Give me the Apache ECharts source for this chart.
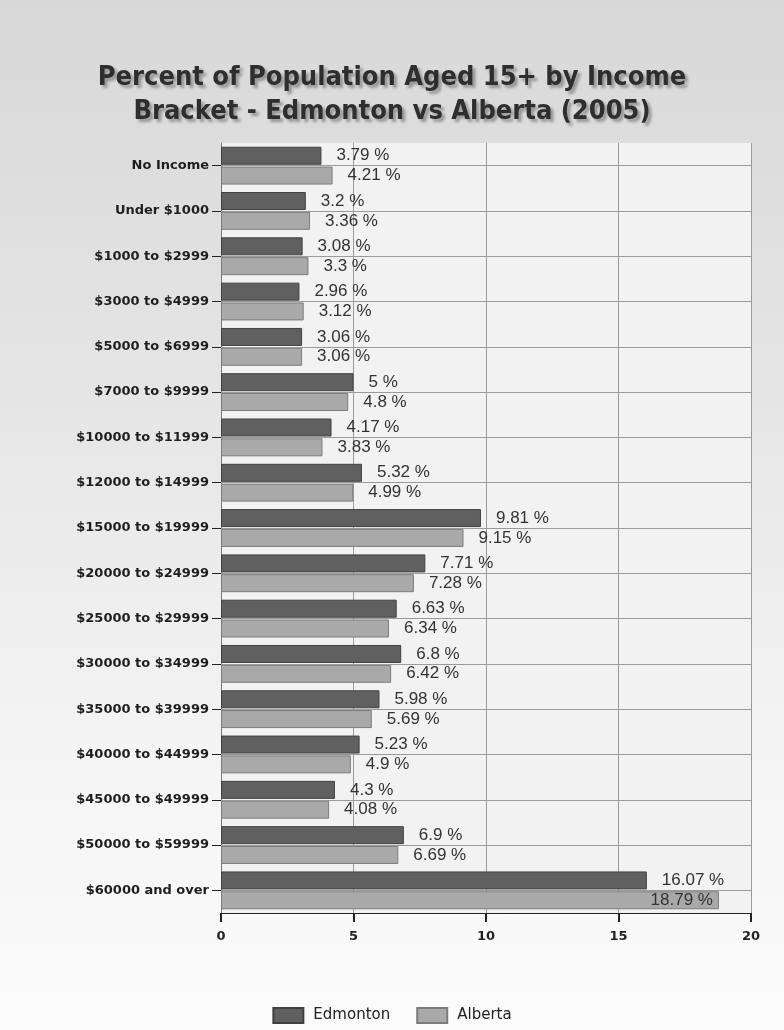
<!DOCTYPE html>
<html>
<head>
<meta charset="utf-8">
<title>Percent of Population Aged 15+ by Income Bracket</title>
<script src="https://cdn.jsdelivr.net/npm/echarts@6/dist/echarts.min.js"></script>
<style>
  html, body { margin: 0; padding: 0; }
  body { width: 784px; height: 1030px; background: linear-gradient(to bottom, #d8d8d8 0%, #e4e4e4 35%, #f5f5f5 75%, #fbfbfb 100%); }
  #chart { width: 784px; height: 1030px; }
</style>
</head>
<body>
<div id="chart"></div>
<script>
// Income brackets, top to bottom
const categories = [
  'No Income', 'Under $1000', '$1000 to $2999', '$3000 to $4999', '$5000 to $6999',
  '$7000 to $9999', '$10000 to $11999', '$12000 to $14999', '$15000 to $19999',
  '$20000 to $24999', '$25000 to $29999', '$30000 to $34999', '$35000 to $39999',
  '$40000 to $44999', '$45000 to $49999', '$50000 to $59999', '$60000 and over'
];

// Share of population aged 15+ (%)
const edmonton = [3.79, 3.2, 3.08, 2.96, 3.06, 5, 4.17, 5.32, 9.81, 7.71, 6.63, 6.8, 5.98, 5.23, 4.3, 6.9, 16.07];
const alberta  = [4.21, 3.36, 3.3, 3.12, 3.06, 4.8, 3.83, 4.99, 9.15, 7.28, 6.34, 6.42, 5.69, 4.9, 4.08, 6.69, 18.79];

const xTicks = [0, 5, 10, 15, 20];

const labelFont = { fontFamily: 'Liberation Sans, Arial, sans-serif', fontSize: 17, color: '#333333' };
const axisFont = 'DejaVu Sans, Verdana, sans-serif';

function barData(values) {
  // A label that would run past the axis end sits inside its bar instead
  return values.map(v => v > xTicks[xTicks.length - 1] - 2
    ? { value: v, label: { position: 'insideRight', distance: 6 } }
    : v);
}

const chart = echarts.init(document.getElementById('chart'), null, { renderer: 'canvas' });

chart.setOption({
  backgroundColor: 'transparent',
  animation: false,
  title: {
    text: 'Percent of Population Aged 15+ by Income\nBracket - Edmonton vs Alberta (2005)',
    left: 'center',
    top: 56,
    textStyle: {
      fontFamily: 'DejaVu Sans Condensed, DejaVu Sans, sans-serif',
      fontSize: 27,
      fontWeight: 'bold',
      color: '#2e2e2e',
      lineHeight: 34,
      textShadowColor: 'rgba(0,0,0,0.33)',
      textShadowBlur: 3,
      textShadowOffsetX: 3,
      textShadowOffsetY: 3
    }
  },
  legend: {
    bottom: 1,
    left: 'center',
    itemWidth: 30,
    itemHeight: 15,
    itemGap: 26,
    icon: 'rect',
    textStyle: {
      fontFamily: axisFont,
      fontSize: 15,
      color: '#222222',
      padding: [0, 0, 0, 5]
    },
    data: ['Edmonton', 'Alberta']
  },
  grid: {
    left: 221,
    right: 33,
    top: 143,
    bottom: 117,
    show: true,
    backgroundColor: '#f2f2f2',
    borderWidth: 0
  },
  xAxis: {
    type: 'value',
    min: xTicks[0],
    max: xTicks[xTicks.length - 1],
    interval: xTicks[1] - xTicks[0],
    axisLine: { show: true, lineStyle: { color: '#222222', width: 1 } },
    axisTick: { show: true, length: 9, lineStyle: { color: '#222222', width: 2 } },
    axisLabel: {
      margin: 17,
      fontFamily: axisFont,
      fontWeight: 'bold',
      fontSize: 13,
      color: '#222222'
    },
    splitLine: { show: true, lineStyle: { color: '#9a9a9a', width: 1 } }
  },
  yAxis: {
    type: 'category',
    data: categories,
    inverse: true,
    axisLine: { show: true, lineStyle: { color: '#777777', width: 1 } },
    axisTick: { show: true, alignWithLabel: true, length: 9, lineStyle: { color: '#222222', width: 1 } },
    axisLabel: {
      margin: 12,
      fontFamily: axisFont,
      fontWeight: 'bold',
      fontSize: 13,
      color: '#1e1e1e'
    },
    splitLine: { show: false }
  },
  series: [
    {
      // Horizontal rules through the middle of each bracket
      name: 'rules',
      type: 'line',
      data: [],
      silent: true,
      z: 1,
      markLine: {
        silent: true,
        symbol: 'none',
        label: { show: false },
        lineStyle: { color: '#9a9a9a', width: 1, type: 'solid' },
        data: categories.map(c => ({ yAxis: c }))
      }
    },
    {
      name: 'Edmonton',
      type: 'bar',
      data: barData(edmonton),
      barWidth: 18,
      barGap: '10%',
      z: 3,
      itemStyle: { color: '#606060', borderColor: '#404040', borderWidth: 1 },
      label: {
        show: true,
        position: 'right',
        distance: 15,
        formatter: p => p.value + ' %',
        ...labelFont
      }
    },
    {
      name: 'Alberta',
      type: 'bar',
      data: barData(alberta),
      barWidth: 18,
      z: 3,
      itemStyle: { color: '#a9a9a9', borderColor: '#7c7c7c', borderWidth: 1 },
      label: {
        show: true,
        position: 'right',
        distance: 15,
        formatter: p => p.value + ' %',
        ...labelFont
      }
    }
  ]
});
</script>
</body>
</html>
